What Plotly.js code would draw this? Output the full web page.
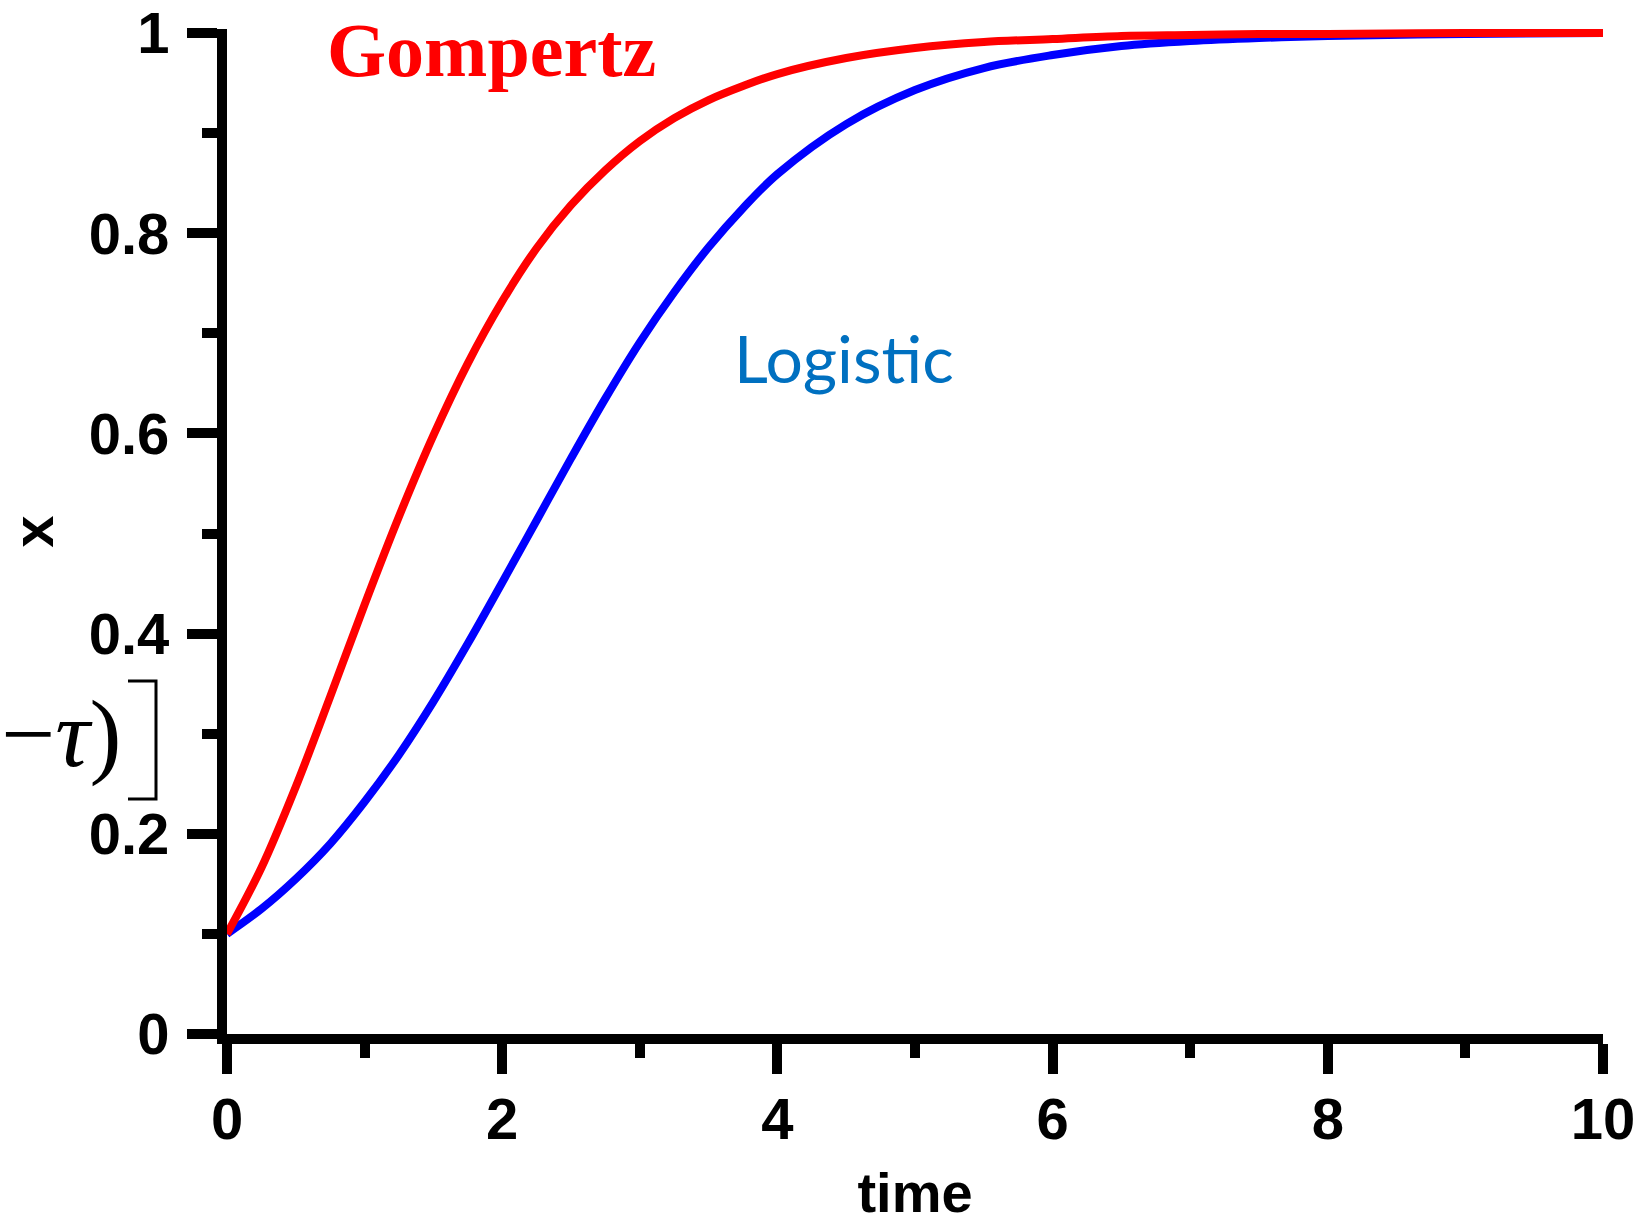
<!DOCTYPE html>
<html>
<head>
<meta charset="utf-8">
<script src="https://cdn.plot.ly/plotly-3.0.1.min.js"></script>
<style>html,body{margin:0;padding:0;background:#fff;}#chart{width:1649px;height:1224px;}</style>
</head>
<body>
<div id="chart"></div>
<script>
// Values
const time = [0,0.25,0.5,0.75,1,1.25,1.5,1.75,2,2.25,2.5,2.75,3,3.25,3.5,3.75,4,4.5,5,5.5,6,6.5,7,7.5,8,9,10];
const logistic = [0.100,0.125,0.155,0.190,0.232,0.279,0.332,0.390,0.451,0.513,0.575,0.635,0.691,0.741,0.786,0.825,0.859,0.909,0.943,0.965,0.978,0.987,0.992,0.995,0.997,0.999,1.000];
const gompertz = [0.100,0.166,0.247,0.337,0.429,0.517,0.598,0.670,0.732,0.785,0.828,0.863,0.892,0.915,0.933,0.947,0.959,0.975,0.985,0.991,0.994,0.997,0.998,0.999,0.999,1.000,1.000];
const xTicks = [0,2,4,6,8,10];
const yTicks = [0,0.2,0.4,0.6,0.8,1];

const W = 1649, H = 1224;
const m = {l:227, r:46, t:29, b:190};
const pw = W - m.l - m.r, ph = H - m.t - m.b;
const px = x => (x - m.l) / pw;
const py = y => (H - m.b - y) / ph;

const tickFont = {family:'"Liberation Sans", Arial, sans-serif', size:58, color:'#000', weight:'bold'};

const traces = [
  {x: time, y: logistic, mode:'lines', line:{color:'#0000ff', width:8, shape:'spline', smoothing:1}, name:'Logistic', hoverinfo:'skip'},
  {x: time, y: gompertz, mode:'lines', line:{color:'#ff0000', width:8, shape:'spline', smoothing:1}, name:'Gompertz', hoverinfo:'skip'}
];

const layout = {
  width: W, height: H,
  margin: m,
  paper_bgcolor:'#fff', plot_bgcolor:'#fff',
  showlegend:false,
  xaxis:{
    range:[0,10], showgrid:false, zeroline:false,
    showline:true, linecolor:'#000', linewidth:10,
    ticks:'outside', ticklen:30, tickwidth:10, tickcolor:'#000',
    tickvals:xTicks, ticktext:xTicks.map(String),
    tickfont:tickFont, ticklabelstandoff:-5, ticklabeloverflow:'allow',
    minor:{dtick:1, tick0:0, ticks:'outside', ticklen:14, tickwidth:10, tickcolor:'#000', showgrid:false},
    title:{text:'time', font:{family:'"Liberation Sans", Arial, sans-serif', size:56, color:'#000', weight:'bold'}, standoff:52}
  },
  yaxis:{
    range:[0,1.004], showgrid:false, zeroline:false,
    showline:true, linecolor:'#000', linewidth:10,
    ticks:'outside', ticklen:30, tickwidth:10, tickcolor:'#000',
    tickvals:yTicks, ticktext:yTicks.map(String),
    tickfont:tickFont, ticklabelstandoff:6, ticklabeloverflow:'allow',
    minor:{dtick:0.1, tick0:0, ticks:'outside', ticklen:15, tickwidth:10, tickcolor:'#000', showgrid:false},
    title:{text:'x', font:{family:'"Liberation Sans", Arial, sans-serif', size:58, color:'#000', weight:'bold'}, standoff:30}
  },
  annotations:[
    {xref:'paper', yref:'paper', x:px(491), y:py(50), xanchor:'center', yanchor:'middle', showarrow:false,
     text:'Gompertz', font:{family:'"Liberation Serif", "Times New Roman", serif', size:76, color:'#ff0000', weight:'bold'}},
    {xref:'paper', yref:'paper', x:px(844), y:py(357), xanchor:'center', yanchor:'middle', showarrow:false,
     text:'Logistic', font:{family:'Lato, "Open Sans", sans-serif', size:66, color:'#0070c0'}},
    {xref:'paper', yref:'paper', x:px(123), y:py(733), xanchor:'right', yanchor:'middle', showarrow:false,
     text:'−<i>τ</i>)', font:{family:'"Liberation Serif", "Times New Roman", serif', size:96, color:'#000'}}
  ],
  shapes:[
    {type:'path', xref:'paper', yref:'paper', layer:'above',
     path:'M '+px(128)+' '+py(681)+' L '+px(156)+' '+py(681)+' L '+px(156)+' '+py(799)+' L '+px(128)+' '+py(799),
     line:{color:'#000', width:3}}
  ]
};

Plotly.newPlot('chart', traces, layout, {displayModeBar:false, staticPlot:true});
</script>
</body>
</html>
